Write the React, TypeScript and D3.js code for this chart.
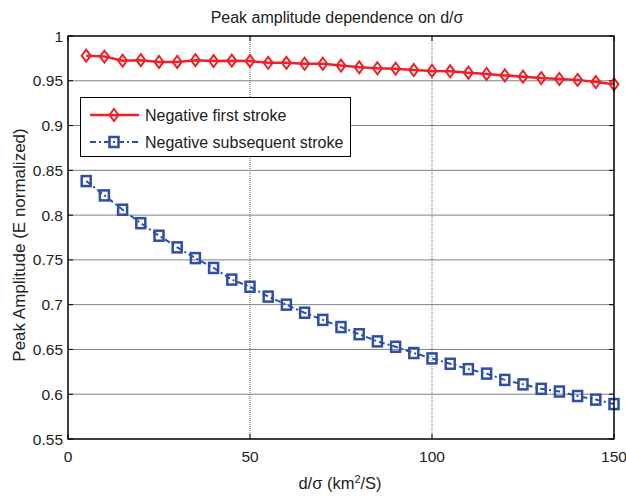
import React from "react";
import * as d3 from "d3";

const xValues = [5,10,15,20,25,30,35,40,45,50,55,60,65,70,75,80,85,90,95,100,105,110,115,120,125,130,135,140,145,150];
const firstStroke = [0.978,0.977,0.9725,0.973,0.971,0.971,0.973,0.972,0.9725,0.972,0.970,0.970,0.969,0.969,0.967,0.965,0.964,0.9635,0.962,0.961,0.9606,0.959,0.9576,0.956,0.9546,0.953,0.952,0.951,0.9486,0.946];
const subsequentStroke = [0.838,0.822,0.806,0.791,0.777,0.764,0.752,0.741,0.728,0.720,0.709,0.700,0.691,0.683,0.675,0.667,0.659,0.653,0.646,0.640,0.634,0.628,0.623,0.616,0.611,0.606,0.603,0.598,0.594,0.589];
const xTicks = [0, 50, 100, 150];
const yTicks = [0.55,0.6,0.65,0.7,0.75,0.8,0.85,0.9,0.95,1];
const yTickLabels = ["0.55","0.6","0.65","0.7","0.75","0.8","0.85","0.9","0.95","1"];
const seriesNames = ["Negative first stroke", "Negative subsequent stroke"];

const W = 626, H = 497;
const L = 68, R = 614, T = 36, B = 439;
const RED = "#ee2129";
const BLUE = "#2f4fa7";
const FONT = "'Liberation Sans', Arial, sans-serif";

function Diamond({ x, y }: { x: number; y: number }) {
  const w = 4.5, h = 6;
  return <path d={`M${x},${y - h}L${x + w},${y}L${x},${y + h}L${x - w},${y}Z`} fill="none" stroke={RED} strokeWidth={2} />;
}
function Square({ x, y }: { x: number; y: number }) {
  const w = 4.5, h = 5;
  return <rect x={x - w} y={y - h} width={2 * w} height={2 * h} fill="none" stroke={BLUE} strokeWidth={2.5} />;
}

export default function App() {
  const xs = d3.scaleLinear().domain([0, 150]).range([L, R]);
  const ys = d3.scaleLinear().domain([0.55, 1]).range([B, T]);
  const line = d3.line<number>().x((_, i) => xs(xValues[i])).y((d) => ys(d));
  const tk = 5;
  return (
    <svg width={W} height={H} style={{ position: "absolute", left: 0, top: 0, background: "#fff" }} fontFamily={FONT}>
      <rect x={0} y={0} width={W} height={H} fill="#fff" />
      {yTicks.slice(1, -1).map((v) => (
        <line key={"gy" + v} x1={L} x2={R} y1={ys(v)} y2={ys(v)} stroke="#808080" strokeWidth={1} />
      ))}
      {xTicks.slice(1, -1).map((v) => (
        <line key={"gx" + v} x1={xs(v)} x2={xs(v)} y1={T} y2={B} stroke="#666" strokeWidth={1} strokeDasharray="1,1" />
      ))}
      {yTicks.map((v) => (
        <g key={"ty" + v}>
          <line x1={L} x2={L + tk} y1={ys(v)} y2={ys(v)} stroke="#000" />
          <line x1={R} x2={R - tk} y1={ys(v)} y2={ys(v)} stroke="#000" />
        </g>
      ))}
      {xTicks.map((v) => (
        <g key={"tx" + v}>
          <line x1={xs(v)} x2={xs(v)} y1={B} y2={B - tk} stroke="#000" />
          <line x1={xs(v)} x2={xs(v)} y1={T} y2={T + tk} stroke="#000" />
        </g>
      ))}
      <path d={line(firstStroke) || ""} fill="none" stroke={RED} strokeWidth={2.5} />
      {firstStroke.map((v, i) => <Diamond key={"d" + i} x={xs(xValues[i])} y={ys(v)} />)}
      <path d={line(subsequentStroke) || ""} fill="none" stroke={BLUE} strokeWidth={2} strokeDasharray="6,3,2,3" />
      {subsequentStroke.map((v, i) => <Square key={"s" + i} x={xs(xValues[i])} y={ys(v)} />)}
      <rect x={L} y={T} width={R - L} height={B - T} fill="none" stroke="#000" strokeWidth={1.5} />
      {yTicks.map((v, i) => (
        <text key={"ly" + v} x={L - 5} y={ys(v) + 5.5} textAnchor="end" fontSize={15.5} fill="#222">{yTickLabels[i]}</text>
      ))}
      {xTicks.map((v) => (
        <text key={"lx" + v} x={xs(v)} y={461.5} textAnchor="middle" fontSize={15.5} fill="#222">{v}</text>
      ))}
      <text x={337} y={22.5} textAnchor="middle" fontSize={16} fill="#222">Peak amplitude dependence on d/σ</text>
      <text x={340} y={489} textAnchor="middle" fontSize={16.5} fill="#222">
        d/σ (km<tspan dy={-6} fontSize={11}>2</tspan><tspan dy={6}>/S)</tspan>
      </text>
      <text transform={`translate(25,245) rotate(-90)`} textAnchor="middle" fontSize={17} fill="#222">Peak Amplitude (E normalized)</text>
      <rect x={80.5} y={97.5} width={270} height={59} fill="#fff" stroke="#000" strokeWidth={1} />
      <line x1={90} x2={139} y1={115} y2={115} stroke={RED} strokeWidth={2.5} />
      <Diamond x={114} y={115} />
      <text x={145} y={120.5} fontSize={16} fill="#222">{seriesNames[0]}</text>
      <line x1={90} x2={139} y1={142} y2={142} stroke={BLUE} strokeWidth={2} strokeDasharray="6,3,2,3" />
      <Square x={114} y={142} />
      <text x={145} y={147.5} fontSize={16} fill="#222">{seriesNames[1]}</text>
    </svg>
  );
}
